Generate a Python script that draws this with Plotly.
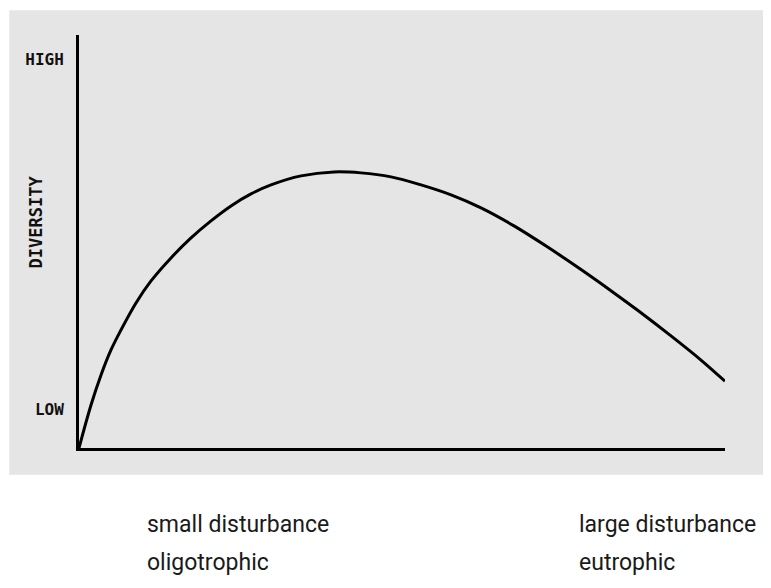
import plotly.graph_objects as go

# Disturbance / trophic gradient (relative units, 0 = small/oligotrophic, 100 = large/eutrophic)
disturbance = [0, 1.86, 3.41, 4.95, 6.50, 8.82, 11.15, 14.24, 17.34, 20.43, 23.53, 26.63,
               29.72, 34.37, 39.47, 43.65, 48.30, 52.94, 57.59, 62.23, 67.34, 72.60, 77.71,
               82.82, 86.53, 91.64, 96.28, 100]
# Diversity (relative units, 10 = LOW, 100 = HIGH)
diversity = [0, 11.08, 18.81, 25.26, 30.41, 37.37, 43.04, 48.97, 54.12, 58.51, 62.37, 65.46,
             67.78, 70.10, 71.13, 70.88, 69.85, 67.78, 65.21, 61.86, 57.22, 51.70, 45.98,
             39.95, 35.42, 28.88, 22.66, 17.2]

y_tick_vals = [10, 100]
y_tick_text = ["<b>LOW</b>", "<b>HIGH</b>"]
y_label = "DIVERSITY"
x_left_label = ["small disturbance", "oligotrophic"]
x_right_label = ["large disturbance", "eutrophic"]

fig = go.Figure()
fig.add_trace(go.Scatter(
    x=disturbance, y=diversity, mode="lines",
    line=dict(color="black", width=3, shape="spline", smoothing=1.0),
    hoverinfo="skip", showlegend=False,
))

mono = "DejaVu Sans Mono"
label_font = "Roboto, sans-serif"

fig.update_layout(
    width=763, height=580,
    margin=dict(l=71, r=46, t=27, b=140),
    paper_bgcolor="white",
    plot_bgcolor="rgba(0,0,0,0)",
    showlegend=False,
    xaxis=dict(range=[0, 100], showgrid=False, zeroline=False, showticklabels=False,
               ticks="", showline=True, linecolor="black", linewidth=3),
    yaxis=dict(range=[0, 106.4], showgrid=False, zeroline=False,
               tickvals=y_tick_vals, ticktext=y_tick_text, ticks="",
               ticklabelstandoff=9,
               tickfont=dict(family=mono, size=16, color="#111"),
               showline=True, linecolor="black", linewidth=3),
    shapes=[dict(type="rect", xref="paper", yref="paper",
                 x0=-0.108, x1=1.073, y0=-0.065, y1=1.06,
                 fillcolor="#e5e5e5", line=dict(width=0), layer="below")],
)

fig.add_annotation(text="<b>%s</b>" % y_label, xref="paper", yref="paper",
                   x=-0.066, y=0.547, xanchor="center", yanchor="middle",
                   showarrow=False, textangle=-90,
                   font=dict(family=mono, size=17, color="#111"))

for txt, xx, yy in [(x_left_label[0], 0.102, -0.186), (x_left_label[1], 0.102, -0.278),
                    (x_right_label[0], 0.771, -0.186), (x_right_label[1], 0.771, -0.278)]:
    fig.add_annotation(text=txt, xref="paper", yref="paper", x=xx, y=yy,
                       xanchor="left", yanchor="middle", showarrow=False,
                       font=dict(family=label_font, size=23, color="#1a1a1a"))

fig.write_html("out.html")
